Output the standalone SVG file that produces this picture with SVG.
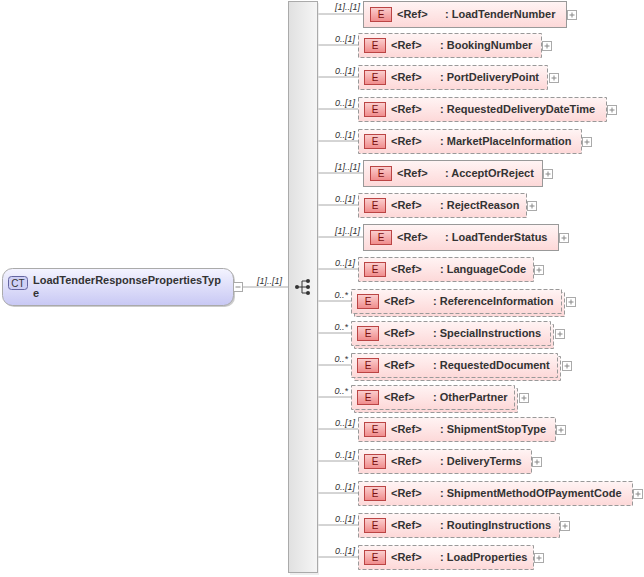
<svg xmlns="http://www.w3.org/2000/svg" width="644" height="577" viewBox="0 0 644 577">
<defs>
<linearGradient id="ct" x1="0" y1="0" x2="0" y2="1"><stop offset="0" stop-color="#f4f4ff"/><stop offset="1" stop-color="#c8c8f4"/></linearGradient>
<linearGradient id="el" x1="0" y1="0" x2="0" y2="1"><stop offset="0" stop-color="#fff4f4"/><stop offset="1" stop-color="#fdd8d8"/></linearGradient>
<linearGradient id="seq" x1="0" y1="0" x2="1" y2="0"><stop offset="0" stop-color="#e0e0e0"/><stop offset="1" stop-color="#f6f6f6"/></linearGradient>
<linearGradient id="ei" x1="0" y1="0" x2="0" y2="1"><stop offset="0" stop-color="#fbd0d0"/><stop offset="1" stop-color="#f08a8a"/></linearGradient>
<g id="plus"><rect x="0.5" y="0.5" width="9" height="9" fill="#fff" stroke="#aaa"/><path d="M2.5 5h5M5 2.5v5" stroke="#888"/></g>
</defs>
<style>
text{font-family:"Liberation Sans",Arial,sans-serif;font-size:11px;font-weight:bold;fill:#333}
.m{font-style:italic;font-weight:normal;font-size:9px;text-anchor:end}
.b{fill:url(#el);stroke:#999}
.o{stroke-dasharray:4 2}
.e{fill:url(#ei);stroke:#b44}
.et{fill:#7a1010;font-weight:normal;font-size:10px;text-anchor:middle}
.c{stroke:#aaa;fill:none}
</style>
<g id="connectors">
<path class="c" d="M242 287H288"/>
<path class="c" d="M317 14H363M317 45H358M317 77H358M317 109H358M317 141H358M317 173H363M317 205H358M317 237H363M317 269H358M317 301H351M317 333H351M317 365H351M317 397H351M317 429H358M317 461H358M317 493H358M317 525H358M317 557H358"/>
<text class="m" x="282" y="284">[1]..[1]</text>
</g>
<g id="sequence">
<rect x="290" y="3" width="29" height="572" fill="#ddd" opacity="0.5"/>
<rect x="288.5" y="1.5" width="29" height="571" fill="url(#seq)" stroke="#aaa"/>
<path d="M296 287h6M302 281v12M302 281h5M302 287h5M302 293h5" stroke="#333" fill="none"/>
<circle cx="297" cy="287" r="2" fill="#333"/><circle cx="308" cy="281" r="2" fill="#333"/><circle cx="308" cy="287" r="2" fill="#333"/><circle cx="308" cy="293" r="2" fill="#333"/>
</g>
<g id="root">
<rect x="4" y="270" width="231" height="37" rx="10" fill="#ccc"/>
<rect x="2.5" y="268.5" width="231" height="37" rx="10" fill="url(#ct)" stroke="#aaa"/>
<rect x="8.5" y="276.5" width="19" height="13" rx="3" fill="#cfd0f5" stroke="#6465a0"/>
<text x="18" y="287" style="font-weight:normal;font-size:10px;text-anchor:middle;fill:#333">CT</text>
<text x="33" y="284">LoadTenderResponsePropertiesTyp</text>
<text x="33" y="297">e</text>
<rect x="233.5" y="282.5" width="9" height="9" fill="#fff" stroke="#aaa"/><path d="M235.5 287h5" stroke="#888"/>
</g>
<g id="n1"><text class="m" x="360" y="10">[1]..[1]</text><rect class="b" x="363.5" y="1.5" width="203" height="26"/><rect class="e" x="370.5" y="7.5" width="21" height="14"/><text class="et" x="381" y="18">E</text><text x="397" y="18">&lt;Ref&gt;</text><text x="445" y="18">: LoadTenderNumber</text><use href="#plus" x="567" y="10"/></g>
<g id="n2"><text class="m" x="355" y="42">0..[1]</text><rect class="b o" x="358.5" y="33.5" width="183" height="24"/><rect class="e" x="364.5" y="38.5" width="21" height="14"/><text class="et" x="375" y="49">E</text><text x="391" y="49">&lt;Ref&gt;</text><text x="440" y="49">: BookingNumber</text><use href="#plus" x="542" y="41"/></g>
<g id="n3"><text class="m" x="355" y="74">0..[1]</text><rect class="b o" x="358.5" y="65.5" width="189" height="24"/><rect class="e" x="364.5" y="70.5" width="21" height="14"/><text class="et" x="375" y="81">E</text><text x="391" y="81">&lt;Ref&gt;</text><text x="440" y="81">: PortDeliveryPoint</text><use href="#plus" x="549" y="73"/></g>
<g id="n4"><text class="m" x="355" y="106">0..[1]</text><rect class="b o" x="358.5" y="97.5" width="248" height="24"/><rect class="e" x="364.5" y="102.5" width="21" height="14"/><text class="et" x="375" y="113">E</text><text x="391" y="113">&lt;Ref&gt;</text><text x="440" y="113">: RequestedDeliveryDateTime</text><use href="#plus" x="607" y="105"/></g>
<g id="n5"><text class="m" x="355" y="138">0..[1]</text><rect class="b o" x="358.5" y="129.5" width="223" height="24"/><rect class="e" x="364.5" y="134.5" width="21" height="14"/><text class="et" x="375" y="145">E</text><text x="391" y="145">&lt;Ref&gt;</text><text x="440" y="145">: MarketPlaceInformation</text><use href="#plus" x="582" y="137"/></g>
<g id="n6"><text class="m" x="360" y="170">[1]..[1]</text><rect class="b" x="363.5" y="160.5" width="179" height="26"/><rect class="e" x="370.5" y="166.5" width="21" height="14"/><text class="et" x="381" y="177">E</text><text x="397" y="177">&lt;Ref&gt;</text><text x="445" y="177">: AcceptOrReject</text><use href="#plus" x="543" y="169"/></g>
<g id="n7"><text class="m" x="355" y="202">0..[1]</text><rect class="b o" x="358.5" y="193.5" width="168" height="24"/><rect class="e" x="364.5" y="198.5" width="21" height="14"/><text class="et" x="375" y="209">E</text><text x="391" y="209">&lt;Ref&gt;</text><text x="440" y="209">: RejectReason</text><use href="#plus" x="527" y="201"/></g>
<g id="n8"><text class="m" x="360" y="234">[1]..[1]</text><rect class="b" x="363.5" y="224.5" width="195" height="26"/><rect class="e" x="370.5" y="230.5" width="21" height="14"/><text class="et" x="381" y="241">E</text><text x="397" y="241">&lt;Ref&gt;</text><text x="445" y="241">: LoadTenderStatus</text><use href="#plus" x="559" y="233"/></g>
<g id="n9"><text class="m" x="355" y="266">0..[1]</text><rect class="b o" x="358.5" y="257.5" width="175" height="24"/><rect class="e" x="364.5" y="262.5" width="21" height="14"/><text class="et" x="375" y="273">E</text><text x="391" y="273">&lt;Ref&gt;</text><text x="440" y="273">: LanguageCode</text><use href="#plus" x="534" y="265"/></g>
<g id="n10"><text class="m" x="348" y="298">0..*</text><rect class="b o" x="354.5" y="292.5" width="210" height="24"/><rect class="b o" x="351.5" y="289.5" width="210" height="24"/><rect class="e" x="357.5" y="294.5" width="21" height="14"/><text class="et" x="368" y="305">E</text><text x="384" y="305">&lt;Ref&gt;</text><text x="433" y="305">: ReferenceInformation</text><use href="#plus" x="566" y="297"/></g>
<g id="n11"><text class="m" x="348" y="330">0..*</text><rect class="b o" x="354.5" y="324.5" width="199" height="24"/><rect class="b o" x="351.5" y="321.5" width="199" height="24"/><rect class="e" x="357.5" y="326.5" width="21" height="14"/><text class="et" x="368" y="337">E</text><text x="384" y="337">&lt;Ref&gt;</text><text x="433" y="337">: SpecialInstructions</text><use href="#plus" x="555" y="329"/></g>
<g id="n12"><text class="m" x="348" y="362">0..*</text><rect class="b o" x="354.5" y="356.5" width="206" height="24"/><rect class="b o" x="351.5" y="353.5" width="206" height="24"/><rect class="e" x="357.5" y="358.5" width="21" height="14"/><text class="et" x="368" y="369">E</text><text x="384" y="369">&lt;Ref&gt;</text><text x="433" y="369">: RequestedDocument</text><use href="#plus" x="562" y="361"/></g>
<g id="n13"><text class="m" x="348" y="394">0..*</text><rect class="b o" x="354.5" y="388.5" width="163" height="24"/><rect class="b o" x="351.5" y="385.5" width="163" height="24"/><rect class="e" x="357.5" y="390.5" width="21" height="14"/><text class="et" x="368" y="401">E</text><text x="384" y="401">&lt;Ref&gt;</text><text x="433" y="401">: OtherPartner</text><use href="#plus" x="519" y="393"/></g>
<g id="n14"><text class="m" x="355" y="426">0..[1]</text><rect class="b o" x="358.5" y="417.5" width="197" height="24"/><rect class="e" x="364.5" y="422.5" width="21" height="14"/><text class="et" x="375" y="433">E</text><text x="391" y="433">&lt;Ref&gt;</text><text x="440" y="433">: ShipmentStopType</text><use href="#plus" x="556" y="425"/></g>
<g id="n15"><text class="m" x="355" y="458">0..[1]</text><rect class="b o" x="358.5" y="449.5" width="173" height="24"/><rect class="e" x="364.5" y="454.5" width="21" height="14"/><text class="et" x="375" y="465">E</text><text x="391" y="465">&lt;Ref&gt;</text><text x="440" y="465">: DeliveryTerms</text><use href="#plus" x="532" y="457"/></g>
<g id="n16"><text class="m" x="355" y="490">0..[1]</text><rect class="b o" x="358.5" y="481.5" width="274" height="24"/><rect class="e" x="364.5" y="486.5" width="21" height="14"/><text class="et" x="375" y="497">E</text><text x="391" y="497">&lt;Ref&gt;</text><text x="440" y="497">: ShipmentMethodOfPaymentCode</text><use href="#plus" x="633" y="489"/></g>
<g id="n17"><text class="m" x="355" y="522">0..[1]</text><rect class="b o" x="358.5" y="513.5" width="201" height="24"/><rect class="e" x="364.5" y="518.5" width="21" height="14"/><text class="et" x="375" y="529">E</text><text x="391" y="529">&lt;Ref&gt;</text><text x="440" y="529">: RoutingInstructions</text><use href="#plus" x="560" y="521"/></g>
<g id="n18"><text class="m" x="355" y="554">0..[1]</text><rect class="b o" x="358.5" y="545.5" width="175" height="24"/><rect class="e" x="364.5" y="550.5" width="21" height="14"/><text class="et" x="375" y="561">E</text><text x="391" y="561">&lt;Ref&gt;</text><text x="440" y="561">: LoadProperties</text><use href="#plus" x="534" y="553"/></g>
</svg>
